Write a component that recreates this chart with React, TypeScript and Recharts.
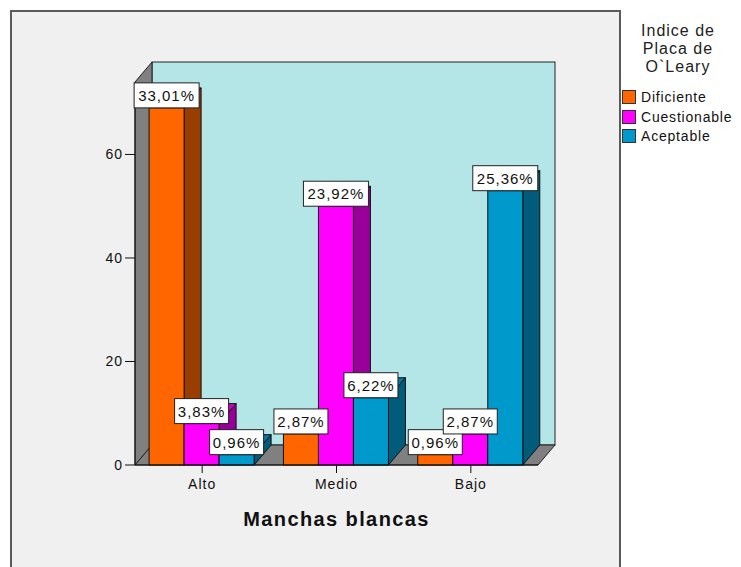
import React from "react";
import {
  BarChart,
  Bar,
  XAxis,
  YAxis,
  ReferenceArea,
  LabelList
} from "recharts";

const categories = ["Alto", "Medio", "Bajo"];
const deficiente = [69, 6, 2];
const cuestionable = [8, 50, 6];
const aceptable = [2, 13, 53];
const yTicks = [0, 20, 40, 60];
const seriesNames = ["Dificiente", "Cuestionable", "Aceptable"];

const total = [...deficiente, ...cuestionable, ...aceptable].reduce((a, b) => a + b, 0);

const data = categories.map((name, i) => ({
  name,
  deficiente: deficiente[i],
  cuestionable: cuestionable[i],
  aceptable: aceptable[i]
}));

// front / side / top shades for each series
const palette = [
  { key: "deficiente", front: "#ff6600", side: "#993d00", top: "#cc5200" },
  { key: "cuestionable", front: "#ff00ff", side: "#990099", top: "#cc00cc" },
  { key: "aceptable", front: "#0099cc", side: "#005c7a", top: "#007aa3" }
];

const FONT = "'Liberation Sans', Arial, sans-serif";
// depth offset of the 3D effect
const DX = 17;
const DY = -20;

const pct = (v: number) => ((v / total) * 100).toFixed(2).replace(".", ",") + "%";

function makeBar(front: string, side: string, top: string) {
  return (props: any) => {
    const { x, y, width, height } = props;
    if (height <= 0) return <g />;
    const r = x + width;
    const b = y + height;
    return (
      <g stroke="#111" strokeWidth={1}>
        <polygon
          points={`${x},${y} ${x + DX},${y + DY} ${r + DX},${y + DY} ${r},${y}`}
          fill={top}
        />
        <polygon
          points={`${r},${y} ${r + DX},${y + DY} ${r + DX},${b + DY} ${r},${b}`}
          fill={side}
        />
        <rect x={x} y={y} width={width} height={height} fill={front} />
      </g>
    );
  };
}

function Walls(props: any) {
  const { x, y, width, height } = props;
  const r = x + width;
  const b = y + height;
  return (
    <g stroke="#222" strokeWidth={1}>
      <rect x={x + DX} y={y + DY} width={width} height={height} fill="#b4e6e8" />
      <polygon
        points={`${x},${y} ${x + DX},${y + DY} ${x + DX},${b + DY} ${x},${b}`}
        fill="#808080"
      />
      <polygon
        points={`${x},${b} ${x + DX},${b + DY} ${r + DX},${b + DY} ${r},${b}`}
        fill="#808080"
      />
    </g>
  );
}

function ValueBox(props: any) {
  const { x, y, width, value } = props;
  const text = pct(Number(value));
  const w = text.length * 11 - 1;
  const cx = x + width / 2;
  return (
    <g>
      <rect x={cx - w / 2} y={y - 25} width={w} height={25} fill="#fff" stroke="#222" strokeWidth={1} />
      <text
        x={cx}
        y={y - 7}
        textAnchor="middle"
        fontFamily={FONT}
        fontSize={15}
        letterSpacing={1}
        fill="#111"
      >
        {text}
      </text>
    </g>
  );
}

export default function App() {
  return (
    <div
      style={{
        position: "absolute",
        left: 0,
        top: 0,
        width: 741,
        height: 567,
        background: "#fff",
        overflow: "hidden",
        fontFamily: FONT
      }}
    >
      <div
        style={{
          position: "absolute",
          left: 10,
          top: 10,
          width: 607,
          height: 600,
          border: "2px solid #5a5a5a",
          background: "#f0f0f0"
        }}
      />
      <div style={{ position: "absolute", left: 0, top: 0 }}>
        <BarChart
          width={741}
          height={567}
          data={data}
          margin={{ top: 82, right: 203, bottom: 72, left: 75 }}
          barGap={0}
          barCategoryGap="10.5%"
        >
          <XAxis
            dataKey="name"
            height={30}
            axisLine={{ stroke: "#111" }}
            tickLine={{ stroke: "#111" }}
            tickSize={8}
            tickMargin={6}
            tick={{ fill: "#111", fontSize: 14, fontFamily: FONT, letterSpacing: 1 }}
            label={{
              content: ({ viewBox }: any) => (
                <text
                  x={viewBox.x + viewBox.width / 2}
                  y={526}
                  textAnchor="middle"
                  fontFamily={FONT}
                  fontSize={20}
                  fontWeight="bold"
                  letterSpacing={1.4}
                  fill="#111"
                >
                  Manchas blancas
                </text>
              )
            }}
          />
          <YAxis
            width={60}
            domain={[0, 74]}
            ticks={yTicks}
            axisLine={{ stroke: "#111" }}
            tickLine={{ stroke: "#111" }}
            tickSize={10}
            tickMargin={2}
            tick={{ fill: "#111", fontSize: 14, fontFamily: FONT, letterSpacing: 1 }}
          />
          <ReferenceArea y1={0} y2={74} shape={Walls} />
          {palette.map((p) => (
            <Bar
              key={p.key}
              dataKey={p.key}
              fill={p.front}
              shape={makeBar(p.front, p.side, p.top)}
              isAnimationActive={false}
            >
              <LabelList dataKey={p.key} content={ValueBox} />
            </Bar>
          ))}
        </BarChart>
      </div>
      <div
        style={{
          position: "absolute",
          left: 620,
          top: 22,
          width: 116,
          textAlign: "center",
          fontSize: 16,
          lineHeight: "18px",
          letterSpacing: 1,
          color: "#222"
        }}
      >
        Indice de
        <br />
        Placa de
        <br />
        O`Leary
      </div>
      {seriesNames.map((name, i) => (
        <div
          key={name}
          style={{
            position: "absolute",
            left: 622,
            top: 90 + i * 19.5,
            height: 14,
            display: "flex",
            alignItems: "center",
            fontSize: 14,
            letterSpacing: 0.8,
            color: "#111",
            whiteSpace: "nowrap"
          }}
        >
          <span
            style={{
              display: "inline-block",
              width: 12,
              height: 12,
              border: "1px solid #333",
              background: palette[i].front,
              marginRight: 5
            }}
          />
          {name}
        </div>
      ))}
    </div>
  );
}
